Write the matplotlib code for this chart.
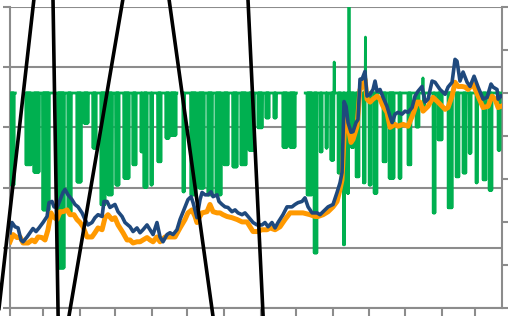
import numpy as np
import matplotlib
matplotlib.use("Agg")
import matplotlib.pyplot as plt
import matplotlib.dates as mdates
from datetime import datetime

# ---------------- data (days after 2021-02-01) ----------------
START = datetime(2021, 2, 1)
END_DAY = 415.8

blue_days = [0, 1.7, 4.2, 6.8, 9.3, 11.0, 14.4, 16.9, 19.4, 22.0, 24.5, 27.9,
             31.3, 33.0, 35.5, 37.2, 39.7, 41.4, 44.8, 46.5, 49.0, 52.4,
             54.9, 57.5, 60.9, 63.4, 65.9, 69.3, 71.8, 74.4, 77.8, 79.4,
             82.0, 84.5, 88.7, 91.3, 94.7, 97.2, 101.4, 104.0, 107.3, 109.9,
             112.4, 115.8, 118.3, 120.9, 124.2, 126.8, 129.3, 132.7, 135.2, 137.8,
             141.1, 143.7, 147.9, 150.4, 153.0, 154.7, 158.0, 160.6, 162.3, 164.8,
             167.3, 169.9, 171.6, 175.0, 176.6, 179.2, 181.7, 184.2, 187.6, 190.2,
             192.7, 196.1, 198.6, 201.2, 205.4, 208.8, 213.0, 215.5, 218.1, 221.4,
             224.0, 226.5, 230.7, 234.1, 238.3, 240.9, 243.4, 246.8, 249.3, 251.9,
             255.3, 259.5, 262.0, 266.2, 268.8, 273.0, 276.4, 278.9, 280.6, 282.3,
             284.0, 285.7, 288.2, 289.9, 292.4, 294.1, 295.8, 297.5, 300.0, 301.7,
             304.3, 306.8, 308.5, 310.2, 312.7, 315.3, 318.6, 321.2, 322.9, 325.4,
             327.9, 331.3, 333.9, 336.4, 339.8, 342.3, 344.8, 348.2, 350.8, 353.3,
             356.7, 359.2, 363.4, 367.7, 370.2, 373.6, 376.1, 377.8, 380.3, 382.9,
             386.3, 388.8, 392.2, 395.6, 399.8, 403.2, 406.5, 408.2, 411.6, 412.5, 415.0]
blue_vals = [12.5, 14.2, 13.5, 13.3, 11.3, 11.0, 11.8, 12.5, 13.2, 12.7, 13.3, 14.2,
             15.2, 17.5, 17.7, 16.8, 16.7, 17.5, 19.2, 19.7, 18.8, 18.0,
             17.2, 16.8, 15.8, 14.7, 13.8, 14.2, 15.0, 15.5, 15.2, 17.7,
             17.7, 16.7, 17.2, 16.0, 15.2, 14.2, 13.5, 12.7, 13.3, 12.5,
             13.0, 13.8, 13.0, 12.2, 14.2, 11.8, 11.0, 12.2, 12.5, 12.2,
             13.0, 14.7, 16.8, 18.0, 18.5, 17.5, 15.0, 18.0, 19.2, 18.8,
             18.8, 19.3, 18.5, 18.8, 17.7, 17.2, 16.8, 16.7, 16.0, 16.3,
             15.8, 15.5, 15.8, 15.2, 14.2, 13.8, 13.8, 14.2, 13.5, 14.2,
             13.3, 14.2, 15.5, 16.8, 16.8, 17.2, 17.5, 17.7, 18.3, 16.8,
             15.8, 15.8, 15.5, 16.3, 16.8, 17.2, 19.2, 20.8, 22.5, 34.3,
             33.5, 30.8, 29.2, 29.3, 30.8, 31.3, 38.0, 38.0, 39.3, 35.2,
             35.5, 36.3, 37.7, 36.0, 36.3, 35.0, 33.5, 31.8, 30.8, 32.2,
             32.5, 32.2, 32.7, 32.5, 33.3, 35.2, 36.0, 36.8, 34.2, 34.7,
             37.7, 37.5, 36.3, 35.5, 36.7, 37.5, 41.3, 41.0, 37.7, 39.2,
             37.5, 36.8, 38.5, 36.7, 34.7, 35.0, 37.2, 36.7, 36.3, 34.7, 35.2]

orange_days = [0, 2.5, 5.9, 8.5, 11.0, 15.2, 18.6, 21.1, 23.7, 27.0,
               29.6, 32.1, 34.7, 36.3, 39.7, 42.3, 44.8, 48.2, 50.7, 54.1,
               56.6, 59.2, 61.7, 65.1, 69.3, 71.8, 74.4, 77.8, 80.3, 82.8,
               86.2, 88.7, 91.3, 95.5, 98.9, 101.4, 104.0, 107.3, 109.9, 112.4,
               115.8, 118.3, 120.9, 124.2, 126.8, 131.0, 135.2, 139.5, 143.7, 147.9,
               150.4, 153.8, 156.4, 158.0, 158.9, 162.3, 166.5, 169.0, 171.6, 175.0,
               177.5, 180.0, 183.4, 187.6, 191.9, 196.1, 200.3, 202.8, 205.4, 208.8,
               213.0, 217.2, 219.8, 224.0, 228.2, 232.4, 236.7, 242.6, 247.6, 253.6,
               257.8, 260.3, 264.6, 268.8, 273.0, 276.4, 278.9, 280.6, 283.1, 285.7,
               288.2, 289.9, 293.3, 295.8, 297.5, 300.0, 301.7, 304.3, 306.8, 310.2,
               312.7, 315.3, 318.6, 321.2, 325.4, 327.9, 332.2, 336.4, 340.6, 344.0,
               346.5, 349.1, 353.3, 357.5, 361.7, 367.7, 370.2, 373.6, 376.1, 378.7,
               382.0, 384.6, 387.1, 391.3, 395.6, 399.8, 404.0, 407.4, 409.9, 412.5, 415.0]
orange_vals = [11.0, 12.2, 11.7, 11.8, 10.8, 10.8, 11.3, 11.0, 11.8, 11.7,
               11.3, 13.0, 15.8, 15.2, 14.7, 16.0, 16.0, 16.3, 15.5, 15.5,
               14.7, 14.2, 13.5, 11.8, 11.8, 12.5, 13.3, 13.0, 15.0, 15.5,
               14.7, 15.0, 13.8, 12.5, 11.3, 11.3, 10.8, 11.0, 11.0, 11.3,
               11.7, 11.3, 11.0, 11.8, 11.0, 11.8, 11.8, 11.8, 13.3, 14.7,
               15.8, 16.3, 15.2, 14.2, 14.7, 15.8, 16.0, 17.2, 16.0, 15.8,
               15.8, 15.5, 15.2, 15.0, 14.7, 14.3, 14.3, 13.5, 12.7, 12.7,
               13.0, 13.0, 13.3, 13.0, 13.5, 14.7, 15.8, 15.8, 15.8, 15.5,
               15.2, 15.2, 15.5, 16.0, 16.8, 17.7, 19.7, 21.3, 31.8, 30.2,
               27.5, 28.0, 30.2, 36.3, 36.7, 38.0, 34.7, 34.2, 34.7, 35.2,
               34.7, 33.5, 32.5, 30.0, 30.5, 30.2, 30.5, 30.2, 32.2, 34.2,
               34.2, 32.7, 33.5, 35.0, 34.2, 33.0, 33.3, 35.2, 37.5, 36.8,
               36.8, 36.7, 36.3, 37.2, 35.2, 33.3, 33.5, 35.2, 34.7, 33.3, 33.5]

# green series (right axis): capped value with dips
green_cap = 50.0
dip_start = [0.7, 13.4, 20.1, 27.7, 40.4, 48.9, 56.5, 62.4, 70.0, 76.8,
             82.7, 89.4, 96.2, 103.8, 110.6, 113.1, 119.0, 124.9, 131.7, 135.9,
             146.1, 152.8, 159.6, 167.2, 174.0, 180.7, 188.3, 195.1, 201.9, 209.5,
             216.2, 223.0, 230.6, 236.5, 251.0, 256.9, 262.0, 267.0, 271.1, 277.2,
             281.7, 285.1, 288.2, 292.4, 298.5, 303.4, 307.6, 315.2, 320.3, 328.7,
             336.3, 343.1, 349.3, 357.5, 361.7, 370.2, 376.9, 382.8, 387.9, 393.8,
             399.7, 404.8, 412.4]
dip_len = [2.8, 4.5, 4.6, 5.4, 5.4, 2.8, 3.7, 3.7, 2.8, 3.6,
           3.7, 2.8, 4.5, 2.8, 1.3, 2.8, 1.3, 2.8, 2.8, 4.5,
           1.3, 4.5, 4.5, 3.7, 4.5, 3.7, 3.7, 4.5, 4.5, 3.7,
           2.8, 2.0, 3.7, 4.5, 4.3, 2.6, 1.8, 1.1, 2.6, 2.6,
           1.1, 1.1, 2.6, 2.6, 1.6, 1.8, 2.6, 2.6, 4.3, 1.8,
           2.6, 2.6, 1.1, 1.8, 3.5, 3.5, 2.6, 2.6, 1.8, 1.1,
           2.6, 2.6, 1.8]
dip_low = [28.6, 33.3, 31.6, 22.8, 9.3, 22.3, 29.3, 43.0, 37.2, 24.0,
           26.3, 28.6, 30.2, 33.3, 36.3, 28.1, 28.6, 34.0, 39.5, 40.2,
           27.0, 26.3, 27.9, 26.3, 26.3, 33.3, 32.8, 33.3, 36.7, 41.9,
           44.2, 44.2, 37.4, 37.4, 26.3, 12.8, 36.3, 37.2, 34.4, 31.4,
           14.7, 26.7, 37.4, 30.5, 29.1, 28.6, 26.7, 34.0, 30.2, 30.2,
           33.3, 42.1, 46.0, 22.1, 39.1, 23.3, 30.5, 31.4, 36.0, 29.1,
           29.8, 27.4, 36.7]
peak_day = [274.0, 286.5, 300.4, 349.0]
peak_val = [57.2, 70.0, 63.0, 53.5]
gap_start = [4.5, 141.0, 242.0]
gap_end = [12.5, 145.5, 249.5]

# black series (left axis), runs far outside the plot range
black_days = [-10.4, 21.2, np.nan, 36.2, 40.8, np.nan, 48.4, 96.9, np.nan,
              133.2, 172.7, np.nan, 200.7, 214.3]
black_vals = [-2.0, 53.0, np.nan, 53.0, -3.0, np.nan, -3.0, 53.0, np.nan,
              53.0, -3.0, np.nan, 53.0, -3.0]

LEFT_MAX, RIGHT_MAX = 50, 70

# ---------------- build green path ----------------
events = []
for s, l, lo in zip(dip_start, dip_len, dip_low):
    events.append((s, "dip", l, lo))
for d, v in zip(peak_day, peak_val):
    events.append((d - 0.25, "peak", d, v))
for g0, g1 in zip(gap_start, gap_end):
    events.append((g0, "gap", g1, None))
events.sort(key=lambda e: e[0])

gx, gy = [0.0], [green_cap]
for e in events:
    if e[1] == "dip":
        s, l, lo = e[0], e[2], e[3]
        n = max(1, int(round(l / 0.4)))
        step = l / n
        gx.append(s); gy.append(green_cap)
        for k in range(n):
            gx += [s + (k + 0.5) * step, s + (k + 1) * step]
            gy += [lo, green_cap]
    elif e[1] == "peak":
        d, v = e[2], e[3]
        gx += [d - 0.25, d, d + 0.25]
        gy += [green_cap, v, green_cap]
    else:
        gx += [e[0], np.nan, e[2]]
        gy += [green_cap, np.nan, green_cap]
gx.append(END_DAY); gy.append(green_cap)
gx = np.array(gx); gy = np.array(gy)

base = mdates.date2num(START)
to_x = lambda d: base + np.asarray(d, dtype=float)
r2l = lambda v: np.asarray(v, dtype=float) * LEFT_MAX / RIGHT_MAX
l2r = lambda v: np.asarray(v, dtype=float) * RIGHT_MAX / LEFT_MAX

# ---------------- figure ----------------
GRAY = "#8c8c8c"
fig = plt.figure(figsize=(5.08, 3.16), dpi=100)
ax = fig.add_axes([10 / 508, 8 / 316, 492 / 508, 301 / 316])

ax.plot(to_x(gx), r2l(gy), color="#00b050", lw=2.0, zorder=3,
        solid_joinstyle="round")
ax.plot(to_x(orange_days), orange_vals, color="#ff9900", lw=3.6, zorder=4,
        solid_joinstyle="round")
ax.plot(to_x(blue_days), blue_vals, color="#1f497d", lw=2.6, zorder=5,
        solid_joinstyle="round")
ax.plot(to_x(black_days), black_vals, color="black", lw=2.6, zorder=6,
        clip_on=False)

ax.set_xlim(base, base + END_DAY)
ax.set_ylim(0, LEFT_MAX)
ax.set_yticks(np.arange(0, LEFT_MAX + 1, 10))
ax.xaxis.set_major_locator(mdates.MonthLocator(bymonthday=1))
ax.grid(axis="y", color=GRAY, lw=1.5, zorder=0)
ax.set_axisbelow(True)

for side in ["left", "bottom"]:
    ax.spines[side].set_color(GRAY)
    ax.spines[side].set_linewidth(1.5)
ax.spines["top"].set_visible(False)
ax.spines["right"].set_visible(False)
ax.tick_params(axis="y", direction="out", length=5, width=1.5, color=GRAY,
               labelleft=False)
ax.tick_params(axis="x", direction="out", length=6, width=1.5, color=GRAY,
               labelbottom=False)

sec = ax.secondary_yaxis("right", functions=(l2r, r2l))
sec.set_yticks(np.arange(0, RIGHT_MAX + 1, 10))
sec.spines["right"].set_color(GRAY)
sec.spines["right"].set_linewidth(1.5)
sec.tick_params(axis="y", direction="out", length=4, width=1.5, color=GRAY,
                labelright=False)

fig.savefig("out.png", dpi=100)
